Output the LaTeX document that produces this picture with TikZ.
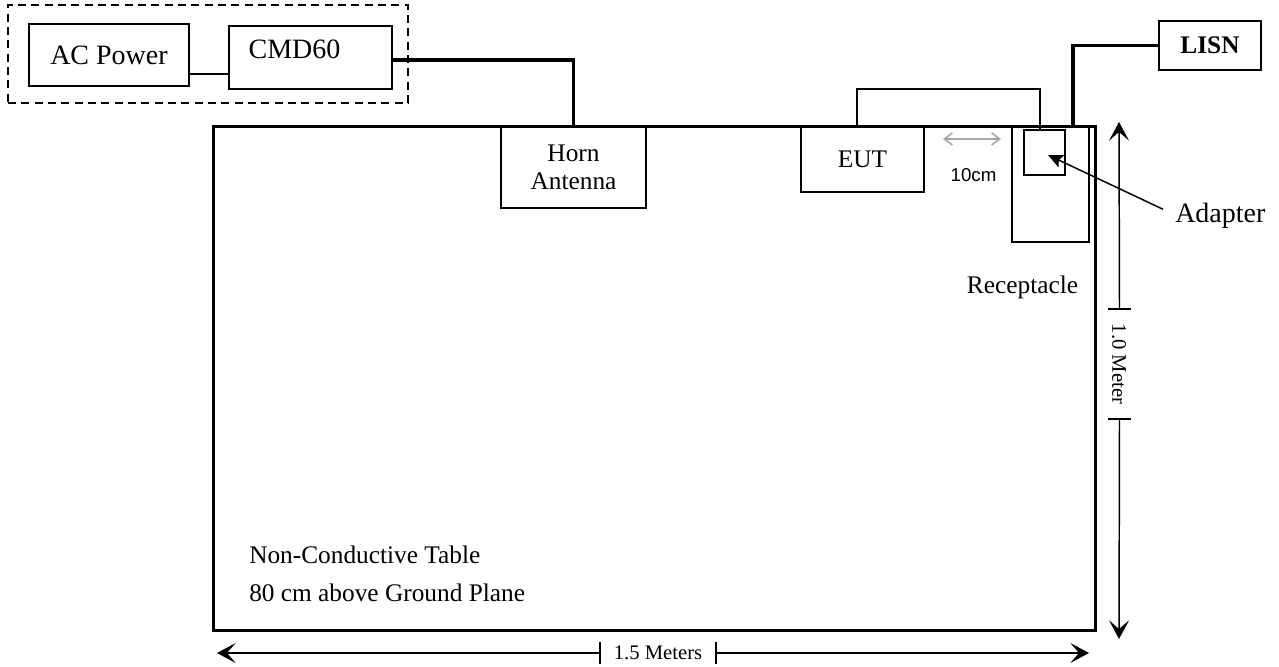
\documentclass[tikz,border=0pt]{standalone}
\usepackage{fontspec}
\setmainfont{Liberation Serif}
\newfontfamily\arialfont{Liberation Sans}
\usetikzlibrary{arrows.meta,calc}

\begin{document}
\begin{tikzpicture}[x=0.75pt,y=0.75pt,yscale=-1,xscale=1,
    box/.style={draw,line width=1.1pt,inner sep=0pt,outer sep=0pt},
    cable/.style={line width=2.6pt},
    wire/.style={line width=1.1pt},
    dim/.style={line width=1.1pt},
    bigtxt/.style={font=\fontsize{21}{25}\selectfont},
    txt/.style={font=\fontsize{19}{21}\selectfont},
    dimtxt/.style={font=\fontsize{15.5}{18}\selectfont,inner sep=0pt},
    >={Stealth[length=14pt,width=15pt,inset=6.5pt]}]
    \useasboundingbox (0,0) rectangle (1279,667);

    % generator side
    \node [box,dash pattern=on 6pt off 4pt,minimum width=300pt,minimum height=73.5pt] (group) at (208,54) {};
    \node [box,bigtxt,minimum width=120pt,minimum height=46.5pt] (acpower) at (109,55) {AC Power};
    \node [box,minimum width=122.25pt,minimum height=47.25pt] (cmd) at (310.5,57.5) {};
    \node [bigtxt,anchor=base,inner sep=0pt] (cmdtext) at (294.5,59) {CMD60};

    % table and what stands on it
    \node [box,line width=2.25pt,minimum width=661.5pt,minimum height=377.25pt] (table) at (654,378.5) {};
    \node [box,txt,align=center,minimum width=108.75pt,minimum height=60.75pt] (horn) at (573.5,167.5) {Horn\\Antenna};
    \node [box,txt,minimum width=92.25pt,minimum height=48.75pt] (eut) at (862.5,159.5) {EUT};
    \node [box,minimum width=57.75pt,minimum height=86.25pt] (recept) at (1050.5,184.5) {};
    \node [box,minimum width=30.75pt,minimum height=33.75pt] (adapter) at (1044.5,152.5) {};
    \node [box,txt,font=\fontsize{19}{21}\selectfont\bfseries,minimum width=76.5pt,minimum height=36.75pt] (lisn) at (1210,45.5) {LISN};

    \node [txt,anchor=base,inner sep=0pt] (recepttext) at (1022.5,293) {Receptacle};
    \node [bigtxt,anchor=base west,inner sep=0pt] (adaptertext) at (1175,222) {Adapter};
    \node [font=\arialfont\fontsize{14}{16}\selectfont,anchor=base,inner sep=0pt] (gaptext) at (973.5,181) {10cm};
    \node [txt,anchor=base west,inner sep=0pt] (tabletext) at (249,563) {Non-Conductive Table};
    \node [txt,anchor=base west,inner sep=0pt] (heighttext) at (249,601) {80 cm above Ground Plane};

    % cables
    \draw [wire] (acpower.east) ++(0,19) coordinate (acout) -- (acout -| cmd.west);
    \draw [cable] ($(cmd.east)+(0,2.5)$) -| (horn.north);
    \coordinate (plug) at (1073,127);
    \draw [cable] (lisn.west) -| (plug);
    \draw [wire] ($(eut.north)+(-5.5,0)$) |- ($(adapter.north)+(-4.5,-41)$) -- ($(adapter.north)+(-4.5,0)$);
    \draw [wire,-{Stealth[length=11pt,width=10pt,inset=2pt]}] ($(adaptertext.west)+(-12,-6)$) -- ($(adapter.center)+(3.5,2.5)$);
    \draw [gray!70,line width=1.2pt,{Straight Barb[length=6pt,width=9pt]}-{Straight Barb[length=6pt,width=9pt]}] ($(eut.north east)+(19,12)$) -- ($(recept.north west)+(-11,12)$);

    % 1.0 Meter
    \node [dimtxt,rotate=-90] (vlabel) at (1119,364) {1.0 Meter};
    \coordinate (vtop) at ($(table.north east)+(24,-5)$);
    \coordinate (vbot) at ($(table.south east)+(24,9)$);
    \coordinate (vtick1) at (1119.5,309);
    \coordinate (vtick2) at (1119.5,419);
    \draw [dim,->] (vtick1) -- (vtop);
    \draw [dim,->] (vtick2) -- (vbot);
    \draw [dim] ($(vtick1)+(-11.5,0)$) -- ++(23,0);
    \draw [dim] ($(vtick2)+(-11.5,0)$) -- ++(23,0);

    % 1.5 Meters
    \node [dimtxt] (hlabel) at (658,653) {1.5 Meters};
    \coordinate (hleft) at ($(table.south west)+(4,23)$);
    \coordinate (hright) at ($(table.south east)+(-6,23)$);
    \coordinate (htick1) at (600,653);
    \coordinate (htick2) at (716,653);
    \draw [dim,->] (htick1) -- (hleft);
    \draw [dim,->] (htick2) -- (hright);
    \draw [dim] ($(htick1)+(0,-11)$) -- ++(0,22);
    \draw [dim] ($(htick2)+(0,-11)$) -- ++(0,22);
\end{tikzpicture}
\end{document}
